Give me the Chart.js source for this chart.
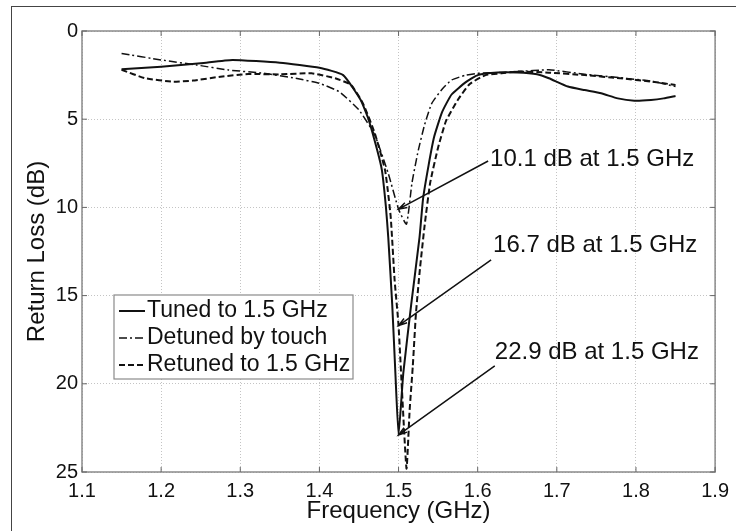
<!DOCTYPE html>
<html>
<head>
<meta charset="utf-8">
<script src="https://cdn.jsdelivr.net/npm/chart.js@4.4.0/dist/chart.umd.min.js"></script>
<style>
    html, body { margin: 0; padding: 0; background: #fff; overflow: hidden; }
    .frame { position: absolute; left: 11px; top: 6px; width: 760px; height: 560px; border: 1.5px solid #444; }
    #rlChart { position: absolute; left: 0; top: 0; }
</style>
</head>
<body>
<div class="frame"></div>
<canvas id="rlChart" width="736" height="531"></canvas>
<script>
// 반사손실 측정 결과 (GHz / dB)
const freqTuned = [1.15, 1.2, 1.25, 1.29, 1.35, 1.4, 1.43, 1.452, 1.462, 1.473, 1.479, 1.484, 1.487, 1.492, 1.496, 1.5,
    1.506, 1.516, 1.5265, 1.531, 1.538, 1.545, 1.555, 1.567, 1.585, 1.6, 1.625, 1.65, 1.675, 1.69, 1.714, 1.735, 1.756, 1.777, 1.798, 1.819, 1.835, 1.85];
const lossTuned = [2.17, 2.02, 1.83, 1.64, 1.8, 2.08, 2.5, 3.9, 5.0, 6.75, 7.9, 9.96, 11.7, 15.5, 19.4, 22.9,
    19.4, 15.5, 11.7, 9.5, 7.6, 6.0, 4.6, 3.6, 2.9, 2.5, 2.35, 2.35, 2.45, 2.68, 3.15, 3.35, 3.53, 3.82, 3.95, 3.91, 3.82, 3.68];

const freqDetuned = [1.15, 1.2, 1.245, 1.285, 1.33, 1.37, 1.4, 1.425, 1.45, 1.47, 1.487, 1.5, 1.51,
    1.517, 1.525, 1.533, 1.542, 1.555, 1.567, 1.585, 1.6, 1.63, 1.65, 1.69, 1.735, 1.78, 1.82, 1.85];
const lossDetuned = [1.27, 1.64, 1.93, 2.21, 2.4, 2.68, 2.97, 3.44, 4.48, 5.9, 8.07, 10.1, 10.95,
    8.6, 6.75, 5.3, 4.1, 3.3, 2.78, 2.5, 2.4, 2.35, 2.3, 2.2, 2.45, 2.65, 2.85, 3.15];

const freqRetuned = [1.15, 1.18, 1.215, 1.24, 1.275, 1.31, 1.35, 1.39, 1.42, 1.44, 1.455, 1.47, 1.483, 1.49, 1.495, 1.5, 1.51,
    1.514, 1.518, 1.522, 1.527, 1.533, 1.54, 1.55, 1.56, 1.575, 1.59, 1.61, 1.63, 1.65, 1.69, 1.735, 1.78, 1.82, 1.85];
const lossRetuned = [2.2, 2.68, 2.87, 2.81, 2.59, 2.44, 2.46, 2.4, 2.68, 3.06, 4.1, 5.8, 7.9, 10.5, 14.1, 16.7, 24.8,
    21.5, 19.0, 16.0, 13.5, 11.0, 8.6, 6.6, 5.1, 3.9, 3.0, 2.5, 2.4, 2.3, 2.36, 2.5, 2.68, 2.87, 3.06];

const seriesNames = ['Tuned to 1.5 GHz', 'Detuned by touch', 'Retuned to 1.5 GHz'];

// 주석: 문구, 문구 위치(GHz, dB), 화살표 끝(GHz, dB)
const noteTexts = ['10.1 dB at 1.5 GHz', '16.7 dB at 1.5 GHz', '22.9 dB at 1.5 GHz'];
const noteTextPos = [[1.6157, 7.26], [1.6195, 12.13], [1.6216, 18.2]];
const noteLineStart = [[1.6132, 7.37], [1.617, 12.98], [1.6216, 18.99]];
const noteArrowTip = [[1.5, 10.1], [1.5, 16.7], [1.5, 22.9]];

const FONT = '"Liberation Sans", Arial, sans-serif';
const INK = '#111';

const toPoints = (xs, ys) => xs.map((x, i) => ({ x: x, y: ys[i] }));

// 축 안쪽 눈금 + 바깥 테두리
const boxPlugin = {
    id: 'boxPlugin',
    afterDraw(chart) {
        const { ctx, chartArea: a, scales } = chart;
        ctx.save();
        ctx.strokeStyle = '#8a8a8a';
        ctx.lineWidth = 1.5;
        ctx.strokeRect(a.left, a.top, a.right - a.left, a.bottom - a.top);
        ctx.lineWidth = 1;
        ctx.strokeStyle = '#666';
        ctx.beginPath();
        scales.x.ticks.forEach(t => {
            const px = scales.x.getPixelForValue(t.value);
            ctx.moveTo(px, a.bottom); ctx.lineTo(px, a.bottom - 5);
            ctx.moveTo(px, a.top); ctx.lineTo(px, a.top + 5);
        });
        scales.y.ticks.forEach(t => {
            const py = scales.y.getPixelForValue(t.value);
            ctx.moveTo(a.left, py); ctx.lineTo(a.left + 5, py);
            ctx.moveTo(a.right, py); ctx.lineTo(a.right - 5, py);
        });
        ctx.stroke();
        ctx.restore();
    }
};

// 화살표 주석
const notePlugin = {
    id: 'notePlugin',
    afterDatasetsDraw(chart) {
        const { ctx, scales: { x, y } } = chart;
        ctx.save();
        ctx.strokeStyle = INK;
        ctx.fillStyle = INK;
        ctx.lineWidth = 1.5;
        ctx.font = '24px ' + FONT;
        ctx.textBaseline = 'middle';
        noteTexts.forEach((txt, i) => {
            const x0 = x.getPixelForValue(noteLineStart[i][0]), y0 = y.getPixelForValue(noteLineStart[i][1]);
            const x1 = x.getPixelForValue(noteArrowTip[i][0]), y1 = y.getPixelForValue(noteArrowTip[i][1]);
            ctx.beginPath();
            ctx.moveTo(x0, y0);
            ctx.lineTo(x1, y1);
            const ang = Math.atan2(y0 - y1, x0 - x1);
            const head = 9;
            ctx.moveTo(x1 + head * Math.cos(ang + 0.3), y1 + head * Math.sin(ang + 0.3));
            ctx.lineTo(x1, y1);
            ctx.lineTo(x1 + head * Math.cos(ang - 0.3), y1 + head * Math.sin(ang - 0.3));
            ctx.stroke();
            ctx.fillText(txt, x.getPixelForValue(noteTextPos[i][0]), y.getPixelForValue(noteTextPos[i][1]));
        });
        ctx.restore();
    }
};

// 차트 영역 안쪽 범례
const legendPlugin = {
    id: 'legendPlugin',
    afterDraw(chart) {
        const ctx = chart.ctx;
        const bx = 114, by = 295, bw = 239, bh = 84;
        ctx.save();
        ctx.fillStyle = '#fff';
        ctx.fillRect(bx, by, bw, bh);
        ctx.strokeStyle = '#8a8a8a';
        ctx.lineWidth = 1.2;
        ctx.strokeRect(bx, by, bw, bh);
        ctx.font = '23px ' + FONT;
        ctx.textBaseline = 'middle';
        chart.data.datasets.forEach((ds, i) => {
            const ry = by + 16 + i * 27;
            ctx.strokeStyle = INK;
            ctx.lineWidth = ds.borderWidth;
            ctx.setLineDash(ds.borderDash || []);
            ctx.beginPath();
            ctx.moveTo(bx + 5, ry);
            ctx.lineTo(bx + 31, ry);
            ctx.stroke();
            ctx.setLineDash([]);
            ctx.fillStyle = INK;
            ctx.fillText(ds.label, bx + 33, ry);
        });
        ctx.restore();
    }
};

new Chart(document.getElementById('rlChart'), {
    type: 'line',
    data: {
        datasets: [{
            label: seriesNames[0],
            data: toPoints(freqTuned, lossTuned),
            borderColor: INK,
            borderWidth: 2,
            pointRadius: 0,
            tension: 0.15
        }, {
            label: seriesNames[1],
            data: toPoints(freqDetuned, lossDetuned),
            borderColor: INK,
            borderWidth: 1.5,
            borderDash: [8, 3, 2, 3],
            pointRadius: 0,
            tension: 0.15
        }, {
            label: seriesNames[2],
            data: toPoints(freqRetuned, lossRetuned),
            borderColor: INK,
            borderWidth: 2,
            borderDash: [6, 3],
            pointRadius: 0,
            tension: 0.15
        }]
    },
    options: {
        responsive: false,
        animation: false,
        layout: { padding: { top: 31, right: 18, left: 0, bottom: 0 } },
        plugins: { legend: { display: false }, tooltip: { enabled: false } },
        scales: {
            x: {
                type: 'linear',
                min: 1.1,
                max: 1.9,
                afterFit: s => { s.height = 59; },
                grid: { color: '#c4c4c4', lineWidth: 1, drawTicks: false },
                border: { display: false, dash: [1, 2] },
                ticks: {
                    stepSize: 0.1,
                    maxRotation: 0,
                    autoSkip: false,
                    padding: 7,
                    color: INK,
                    font: { family: FONT, size: 20 },
                    callback: v => Number(v).toFixed(1)
                },
                title: {
                    display: true,
                    text: 'Frequency (GHz)',
                    color: INK,
                    font: { family: FONT, size: 24 },
                    padding: { top: 0, bottom: 5 }
                }
            },
            y: {
                min: 0,
                max: 25,
                reverse: true,
                afterFit: s => { s.width = 82; },
                grid: { color: '#c4c4c4', lineWidth: 1, drawTicks: false },
                border: { display: false, dash: [1, 2] },
                ticks: {
                    stepSize: 5,
                    padding: 4,
                    color: INK,
                    font: { family: FONT, size: 20 }
                },
                title: {
                    display: true,
                    text: 'Return Loss (dB)',
                    color: INK,
                    font: { family: FONT, size: 24 },
                    padding: { top: 23, bottom: 0 }
                }
            }
        }
    },
    plugins: [boxPlugin, notePlugin, legendPlugin]
});
</script>
</body>
</html>
